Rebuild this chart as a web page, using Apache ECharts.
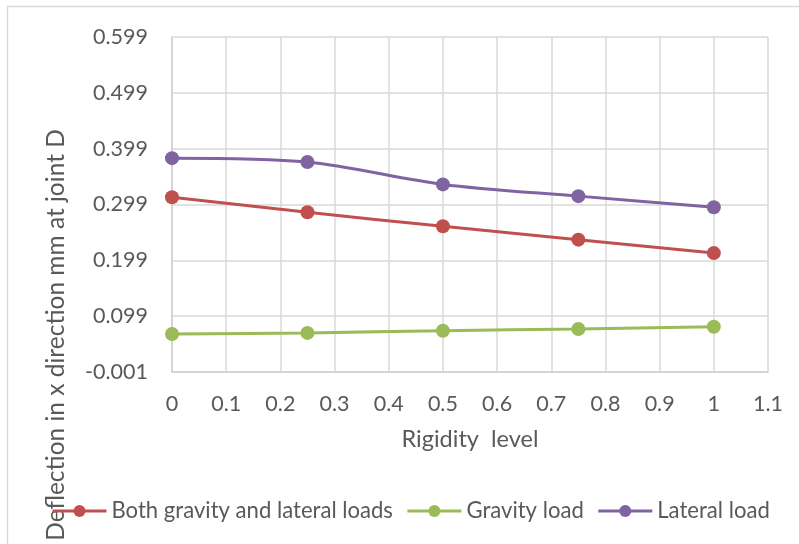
<!DOCTYPE html>
<html>
<head>
<meta charset="utf-8">
<script src="https://cdn.jsdelivr.net/npm/echarts@6/dist/echarts.min.js"></script>
<style>
html,body{margin:0;padding:0;background:#fff;}
#chart{width:799px;height:544px;}
</style>
</head>
<body>
<div id="chart"></div>
<script>
const rigidity = [0, 0.25, 0.5, 0.75, 1];
const bothLoads = [0.312, 0.285, 0.260, 0.236, 0.212];
const gravityLoad = [0.067, 0.069, 0.073, 0.076, 0.080];
const lateralLoad = [0.382, 0.375, 0.335, 0.314, 0.294];
const yTickValues = [-0.001, 0.099, 0.199, 0.299, 0.399, 0.499, 0.599];
const seriesNames = ['Both gravity and lateral loads', 'Gravity load', 'Lateral load'];
const xTitle = 'Rigidity  level';
const yTitle = 'Deflection in x direction mm at joint D';

const FONT = 'Lato';
const TXT = '#595959';

function pairs(ys) { return rigidity.map((x, i) => [x, ys[i]]); }

const chart = echarts.init(document.getElementById('chart'), null, {renderer: 'canvas'});
const mk = (name, data, color) => ({
  name: name, type: 'line', data: pairs(data), smooth: 0.3,
  symbol: 'circle', symbolSize: 14,
  itemStyle: {color: color},
  lineStyle: {color: color, width: 3},
  emphasis: {disabled: true}
});
chart.setOption({
  animation: false,
  backgroundColor: '#ffffff',
  grid: {left: 172, right: 31, top: 37, bottom: 172, containLabel: false},
  xAxis: {
    type: 'value', min: 0, max: 1.1, interval: 0.1,
    name: xTitle, nameLocation: 'middle', nameGap: 55,
    nameTextStyle: {fontFamily: FONT, fontSize: 23.5, color: TXT},
    axisLine: {show: true, lineStyle: {color: '#d0d0d0', width: 1.5}},
    axisTick: {show: false},
    axisLabel: {fontFamily: FONT, fontSize: 21.5, color: TXT, margin: 21},
    splitLine: {show: true, lineStyle: {color: '#d9d9d9', width: 1.5}}
  },
  yAxis: {
    type: 'value', min: -0.001, max: 0.599,
    axisLine: {show: true, lineStyle: {color: '#d0d0d0', width: 1.5}},
    axisTick: {show: false, customValues: yTickValues},
    axisLabel: {fontFamily: FONT, fontSize: 21.5, color: TXT, margin: 24, customValues: yTickValues,
      formatter: v => String(v)},
    splitLine: {show: true, lineStyle: {color: '#d9d9d9', width: 1.5}}
  },
  legend: {
    left: 46, top: 495, itemWidth: 54, itemHeight: 15, itemGap: 13,
    lineStyle: {width: 3},
    textStyle: {fontFamily: FONT, fontSize: 22.1, color: TXT},
    data: seriesNames
  },
  graphic: [
    {type: 'line', shape: {x1: 7, y1: 6.5, x2: 799, y2: 6.5}, style: {stroke: '#d9d9d9', lineWidth: 1.5}, silent: true},
    {type: 'line', shape: {x1: 7.5, y1: 6, x2: 7.5, y2: 544}, style: {stroke: '#d9d9d9', lineWidth: 1.5}, silent: true},
    {type: 'text', x: 56, y: 335, rotation: Math.PI / 2,
      style: {text: yTitle, fontFamily: FONT, fontSize: 24.5, fill: TXT, align: 'center', verticalAlign: 'middle'}, silent: true}
  ],
  series: [
    mk(seriesNames[0], bothLoads, '#c0504d'),
    mk(seriesNames[1], gravityLoad, '#9bbb59'),
    mk(seriesNames[2], lateralLoad, '#8064a2')
  ]
});
</script>
</body>
</html>
